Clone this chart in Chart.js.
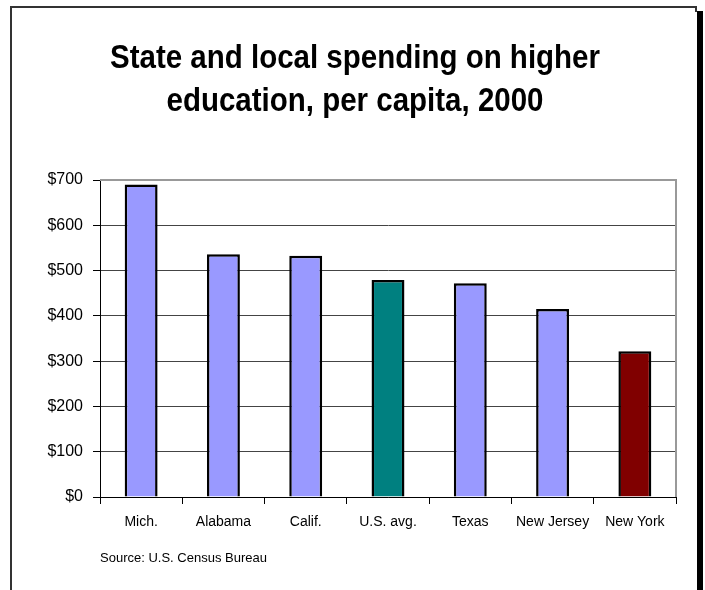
<!DOCTYPE html>
<html><head><meta charset="utf-8">
<script src="https://cdn.jsdelivr.net/npm/chart.js@4.4.1/dist/chart.umd.min.js"></script>
<style>html,body{margin:0;padding:0;background:#fff;}#wrap{width:705px;height:590px;position:relative}</style>
</head><body><div id="wrap"><canvas id="c" width="705" height="590"></canvas></div>
<script>
const categories = ['Mich.', 'Alabama', 'Calif.', 'U.S. avg.', 'Texas', 'New Jersey', 'New York'];
const spending = [690, 536, 533, 479, 472, 415, 322];
const barColors = ['#9999FF', '#9999FF', '#9999FF', '#008080', '#9999FF', '#9999FF', '#800000'];
const yTicks = [0, 100, 200, 300, 400, 500, 600, 700];
const titleLines = ['State and local spending on higher', 'education, per capita, 2000'];
const sourceNote = 'Source: U.S. Census Bureau';

const framePlugin = {
  id: 'frame',
  beforeDraw(chart) {
    const ctx = chart.ctx;
    ctx.save();
    ctx.fillStyle = '#fff';
    ctx.fillRect(0, 0, chart.width, chart.height);
    ctx.strokeStyle = '#333';
    ctx.lineWidth = 2;
    ctx.beginPath();
    ctx.moveTo(11, chart.height);
    ctx.lineTo(11, 7);
    ctx.lineTo(696, 7);
    ctx.lineTo(696, 12);
    ctx.stroke();
    ctx.fillStyle = '#000';
    ctx.fillRect(697, 11, 6, chart.height - 11);

    // title, narrowed to mimic a condensed bold face
    ctx.font = 'bold 34px "Liberation Sans", Arial, sans-serif';
    ctx.textAlign = 'center';
    ctx.textBaseline = 'middle';
    const w = ctx.measureText(titleLines[0]).width;
    const k = 490 / w;
    const cx = 355;
    titleLines.forEach((line, i) => {
      ctx.save();
      ctx.translate(cx, 59 + i * 43);
      ctx.scale(k, 1);
      ctx.fillText(line, 0, 0);
      ctx.restore();
    });
    ctx.restore();
  },
  afterDraw(chart) {
    const ctx = chart.ctx;
    const a = chart.chartArea;
    ctx.save();
    ctx.strokeStyle = '#999';
    ctx.lineWidth = 2;
    ctx.beginPath();
    ctx.moveTo(a.left, a.top);
    ctx.lineTo(a.right, a.top);
    ctx.lineTo(a.right, a.bottom);
    ctx.stroke();
    ctx.fillStyle = '#000';
    ctx.font = '13px "Liberation Sans", Arial, sans-serif';
    ctx.textBaseline = 'middle';
    ctx.textAlign = 'left';
    ctx.fillText(sourceNote, a.left, 558);
    ctx.restore();
  }
};

new Chart(document.getElementById('c'), {
  type: 'bar',
  data: {
    labels: categories,
    datasets: [{
      data: spending,
      backgroundColor: barColors,
      borderColor: '#000',
      borderWidth: 2.5,
      categoryPercentage: 1.0,
      barPercentage: 0.4
    }]
  },
  options: {
    responsive: false,
    animation: false,
    layout: { padding: { left: 0, right: 29, top: 180, bottom: 53 } },
    plugins: {
      legend: { display: false },
      tooltip: { enabled: false },
      title: { display: false }
    },
    scales: {
      x: {
        afterFit(s) { s.height = 40; },
        border: { color: '#000', width: 1 },
        grid: { offset: true, drawOnChartArea: false, drawTicks: true, tickLength: 7, color: '#000' },
        ticks: { color: '#000', padding: 10, maxRotation: 0, autoSkip: false,
          font: { family: '"Liberation Sans", Arial, sans-serif', size: 14 } }
      },
      y: {
        min: 0, max: 700,
        afterFit(s) { s.width = 100; },
        afterBuildTicks(s) { s.ticks = yTicks.map(v => ({ value: v })); },
        border: { color: '#000', width: 1 },
        grid: { color: '#444', lineWidth: 1, tickLength: 7, tickColor: '#000' },
        ticks: { color: '#000', padding: 10, callback: v => '$' + v,
          font: { family: '"Liberation Sans", Arial, sans-serif', size: 16 } }
      }
    }
  },
  plugins: [framePlugin]
});
</script>
</body></html>
